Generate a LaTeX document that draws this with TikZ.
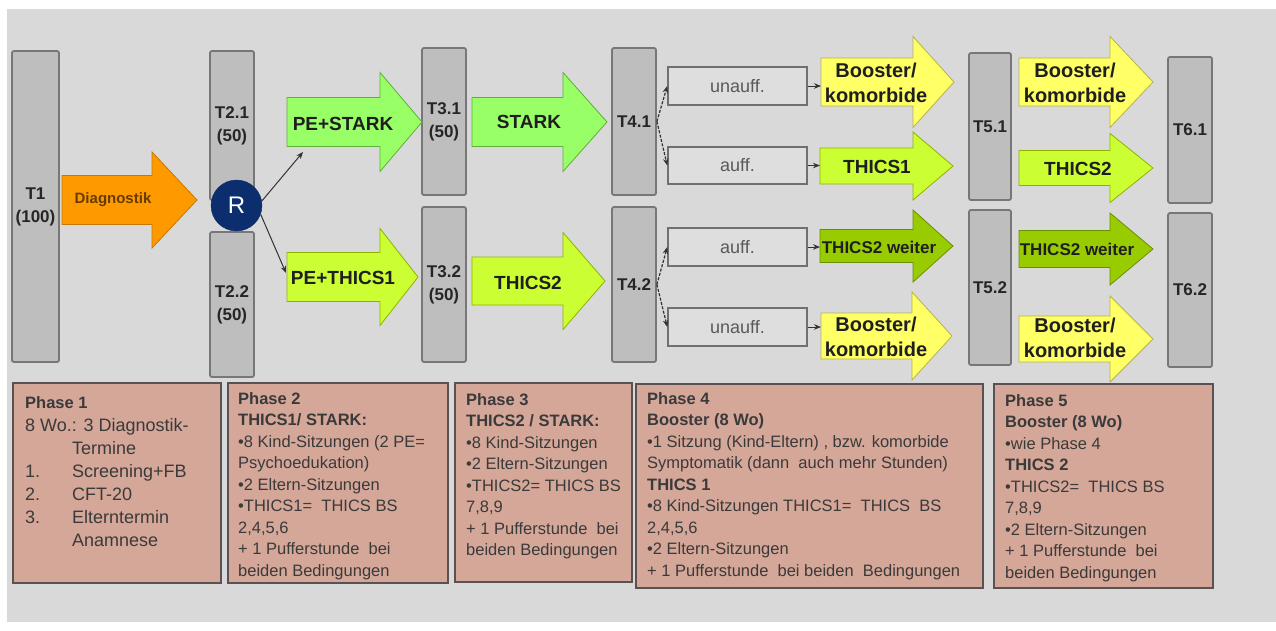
\documentclass[tikz,border=0pt]{standalone}
\usepackage{fontspec}
\setmainfont{Liberation Sans}
\usetikzlibrary{arrows.meta}
\definecolor{bg}{HTML}{D9D9D9}
\definecolor{tfill}{HTML}{BEBEBE}
\definecolor{tborder}{HTML}{777777}
\definecolor{sfill}{HTML}{DEDEDE}
\definecolor{sborder}{HTML}{707070}
\definecolor{pfill}{HTML}{D5A799}
\definecolor{pborder}{HTML}{5A5252}
\definecolor{ptext}{HTML}{3A3A3A}
\definecolor{navy}{HTML}{0C2D6E}
\definecolor{linkc}{HTML}{333333}
\definecolor{orangeF}{HTML}{FF9900}
\definecolor{orangeD}{HTML}{C77700}
\definecolor{lgreenF}{HTML}{99FF66}
\definecolor{lgreenD}{HTML}{5FAF3A}
\definecolor{ygreenF}{HTML}{CCFF33}
\definecolor{ygreenD}{HTML}{8DB300}
\definecolor{dgreenF}{HTML}{99CC00}
\definecolor{dgreenD}{HTML}{6B8E00}
\definecolor{yellowF}{HTML}{FFFF66}
\definecolor{yellowD}{HTML}{B3B34D}
\newcommand{\blockar}[8]{%
  \draw[#8] (#2,#5-#6) -- (#3,#5-#6) -- (#3,#5-#7) -- (#4,#5) -- (#3,#5+#7) -- (#3,#5+#6) -- (#2,#5+#6) -- cycle;
  \coordinate (#1-tail) at (#2,#5);
}
\begin{document}
\begin{tikzpicture}[x=1pt,y=-1pt,
  tbox/.style={draw=tborder, fill=tfill, line width=1.8pt, rounded corners=2pt, inner sep=0pt, align=center,
    font=\fontsize{17}{23}\selectfont\bfseries, text=black!85},
  sbox/.style={draw=sborder, fill=sfill, line width=1.5pt, inner sep=0pt, minimum width=139pt, minimum height=38pt,
    font=\fontsize{18}{20}\selectfont, text=black!65},
  phasebox/.style={draw=pborder, fill=pfill, line width=1.8pt, inner sep=0pt, anchor=north west},
  phasetext/.style={inner sep=0pt, anchor=north west, align=left, font=\fontsize{16.5}{21.5}\selectfont, text=ptext},
  atext/.style={inner sep=0pt, align=center, font=\fontsize{19}{25}\selectfont\bfseries, text=black!88},
  btext/.style={atext, font=\fontsize{20}{25}\selectfont\bfseries},
  link/.style={draw=linkc, line width=1pt, -{Stealth[length=7pt,width=5.5pt]}},
  dlink/.style={link, line width=1.2pt, dash pattern=on 3pt off 1.5pt},
  arO/.style={fill=orangeF, draw=orangeD, line width=0.8pt},
  arL/.style={fill=lgreenF, draw=lgreenD, line width=0.8pt},
  arY/.style={fill=ygreenF, draw=ygreenD, line width=0.8pt},
  arD/.style={fill=dgreenF, draw=dgreenD, line width=0.8pt},
  arB/.style={fill=yellowF, draw=yellowD, line width=0.8pt},
]
\useasboundingbox (0,0) rectangle (1276,630);
\fill[white] (0,0) rectangle (1276,630);
\fill[bg] (7,9) rectangle (1276,622);

% time point columns
\node[tbox, minimum width=47pt, minimum height=311pt] (T1) at (35.5,206.5) {T1\\(100)};
\node[tbox, minimum width=44pt, minimum height=149pt] (T21) at (232,125.5) {T2.1\\(50)};
\node[tbox, minimum width=44pt, minimum height=145pt] (T22) at (232,304.5) {T2.2\\(50)};
\node[tbox, minimum width=44pt, minimum height=147pt] (T31) at (444,121.5) {T3.1\\(50)};
\node[tbox, minimum width=44pt, minimum height=155pt] (T32) at (444,284.5) {T3.2\\(50)};
\node[tbox, minimum width=44pt, minimum height=147pt] (T41) at (634,121.5) {T4.1};
\node[tbox, minimum width=44pt, minimum height=155pt] (T42) at (634,284.5) {T4.2};
\node[tbox, minimum width=42pt, minimum height=147pt] (T51) at (990,126.5) {T5.1};
\node[tbox, minimum width=42pt, minimum height=155pt] (T52) at (990,287.5) {T5.2};
\node[tbox, minimum width=44pt, minimum height=146pt] (T61) at (1190,130) {T6.1};
\node[tbox, minimum width=44pt, minimum height=154pt] (T62) at (1190,290) {T6.2};

% randomisation
\node[circle, fill=navy, draw=navy, minimum size=51pt, inner sep=0pt, text=white,
  font=\fontsize{24}{24}\selectfont] (R) at (236.5,205.5) {R};

% block arrows
\blockar{aD}{62}{152}{197}{200}{24.5}{48}{arO}
\node[atext, font=\fontsize{15}{16}\selectfont\bfseries, text={rgb,255:red,100;green,60;blue,0}] (aDt) at (113,200) {Diagnostik};
\blockar{aPS}{287}{380}{422}{122}{24.5}{49.5}{arL}
\node[atext] (aPSt) at (343,124) {PE+STARK};
\blockar{aPT}{287}{380}{418}{277}{24.5}{48.5}{arY}
\node[atext] (aPTt) at (343,278) {PE+THICS1};
\blockar{aS}{472}{563}{607}{122}{24.5}{49.5}{arL}
\node[atext] (aSt) at (529,122) {STARK};
\blockar{aT2}{472}{563}{605}{281}{24}{48.5}{arY}
\node[atext] (aT2t) at (528,283) {THICS2};

\blockar{a5a}{821}{913}{954}{82}{24}{45.5}{arB}
\node[btext] (a5at) at (876,83) {Booster/\\komorbide};
\blockar{a5b}{820}{913}{953}{166}{18}{34}{arY}
\node[atext] (a5bt) at (877,166.5) {THICS1};
\blockar{a5c}{820}{913}{953}{246}{16.5}{36}{arD}
\node[atext, font=\fontsize{17}{20}\selectfont\bfseries] (a5ct) at (879,247.5) {THICS2 weiter};
\blockar{a5d}{821}{912}{952}{336}{23}{44}{arB}
\node[btext] (a5dt) at (876,337) {Booster/\\komorbide};

\blockar{a6a}{1019}{1110}{1153}{82}{24}{45.5}{arB}
\node[btext] (a6at) at (1075,83) {Booster/\\komorbide};
\blockar{a6b}{1019}{1110}{1153}{168}{17.5}{34.5}{arY}
\node[atext] (a6bt) at (1078,168.5) {THICS2};
\blockar{a6c}{1019}{1110}{1153}{249}{18.5}{36}{arD}
\node[atext, font=\fontsize{17}{20}\selectfont\bfseries] (a6ct) at (1077,249.5) {THICS2 weiter};
\blockar{a6d}{1019}{1110}{1153}{339}{23}{43}{arB}
\node[btext] (a6dt) at (1075,338) {Booster/\\komorbide};

% outcome boxes
\node[sbox] (U1) at (737.5,86) {unauff.};
\node[sbox, minimum height=37pt] (A1) at (737.5,165.5) {auff.};
\node[sbox] (A2) at (737.5,247) {auff.};
\node[sbox] (U2) at (737.5,327) {unauff.};

% connectors
\coordinate (pesIn) at (303,152);
\coordinate (petIn) at (286,273);
\draw[link] (R.10) -- (pesIn);
\draw[link] (R.-20) -- (petIn);
\draw[dlink] (T41.east) -- (U1.west);
\draw[dlink] (T41.east) -- (A1.west);
\draw[dlink] (T42.east) -- (A2.west);
\draw[dlink] (T42.east) -- (U2.west);
\draw[link] (U1.east) -- (U1.east -| a5a-tail);
\draw[link] (A1.east) -- (A1.east -| a5b-tail);
\draw[link] (A2.east) -- (A2.east -| a5c-tail);
\draw[link] (U2.east) -- (U2.east -| a5d-tail);

% phase boxes
\node[phasebox, minimum width=208pt, minimum height=200pt] (P1) at (12,382) {};
\node[phasetext, font=\fontsize{18}{23}\selectfont] (P1t) at ([xshift=13pt,yshift=-14pt]P1.north west)
  {{\fontsize{16.5}{23}\selectfont\bfseries Phase 1}\\
   8 Wo.: 3 Diagnostik-\\
   \hspace*{47pt}Termine\\
   \makebox[47pt][l]{1.}Screening+FB\\
   \makebox[47pt][l]{2.}CFT-20\\
   \makebox[47pt][l]{3.}Elterntermin\\
   \hspace*{47pt}Anamnese};

\node[phasebox, minimum width=220pt, minimum height=200pt] (P2) at (227,382) {};
\node[phasetext] (P2t) at ([xshift=11pt,yshift=-10pt]P2.north west)
  {\textbf{Phase 2}\\
   \textbf{THICS1/ STARK:}\\
   •8 Kind-Sitzungen (2 PE=\\
   Psychoedukation)\\
   •2 Eltern-Sitzungen\\
   •THICS1=\ \ THICS BS\\
   2,4,5,6\\
   + 1 Pufferstunde\ \ bei\\
   beiden Bedingungen};

\node[phasebox, minimum width=177pt, minimum height=199pt] (P3) at (454,382) {};
\node[phasetext] (P3t) at ([xshift=12pt,yshift=-11pt]P3.north west)
  {\textbf{Phase 3}\\
   \textbf{THICS2 / STARK:}\\
   •8 Kind-Sitzungen\\
   •2 Eltern-Sitzungen\\
   •THICS2= THICS BS\\
   7,8,9\\
   + 1 Pufferstunde\ \ bei\\
   beiden Bedingungen};

\node[phasebox, minimum width=347pt, minimum height=204pt] (P4) at (635,383) {};
\node[phasetext] (P4t) at ([xshift=12pt,yshift=-9pt]P4.north west)
  {\textbf{Phase 4}\\
   \textbf{Booster (8 Wo)}\\
   •1 Sitzung (Kind-Eltern) , bzw. komorbide\\
   Symptomatik (dann\ \ auch mehr Stunden)\\
   \textbf{THICS 1}\\
   •8 Kind-Sitzungen THICS1=\ \ THICS\ \ BS\\
   2,4,5,6\\
   •2 Eltern-Sitzungen\\
   + 1 Pufferstunde\ \ bei beiden\ \ Bedingungen};

\node[phasebox, minimum width=219pt, minimum height=204pt] (P5) at (993,383) {};
\node[phasetext] (P5t) at ([xshift=12pt,yshift=-11pt]P5.north west)
  {\textbf{Phase 5}\\
   \textbf{Booster (8 Wo)}\\
   •wie Phase 4\\
   \textbf{THICS 2}\\
   •THICS2=\ \ THICS BS\\
   7,8,9\\
   •2 Eltern-Sitzungen\\
   + 1 Pufferstunde\ \ bei\\
   beiden Bedingungen};
\end{tikzpicture}
\end{document}
